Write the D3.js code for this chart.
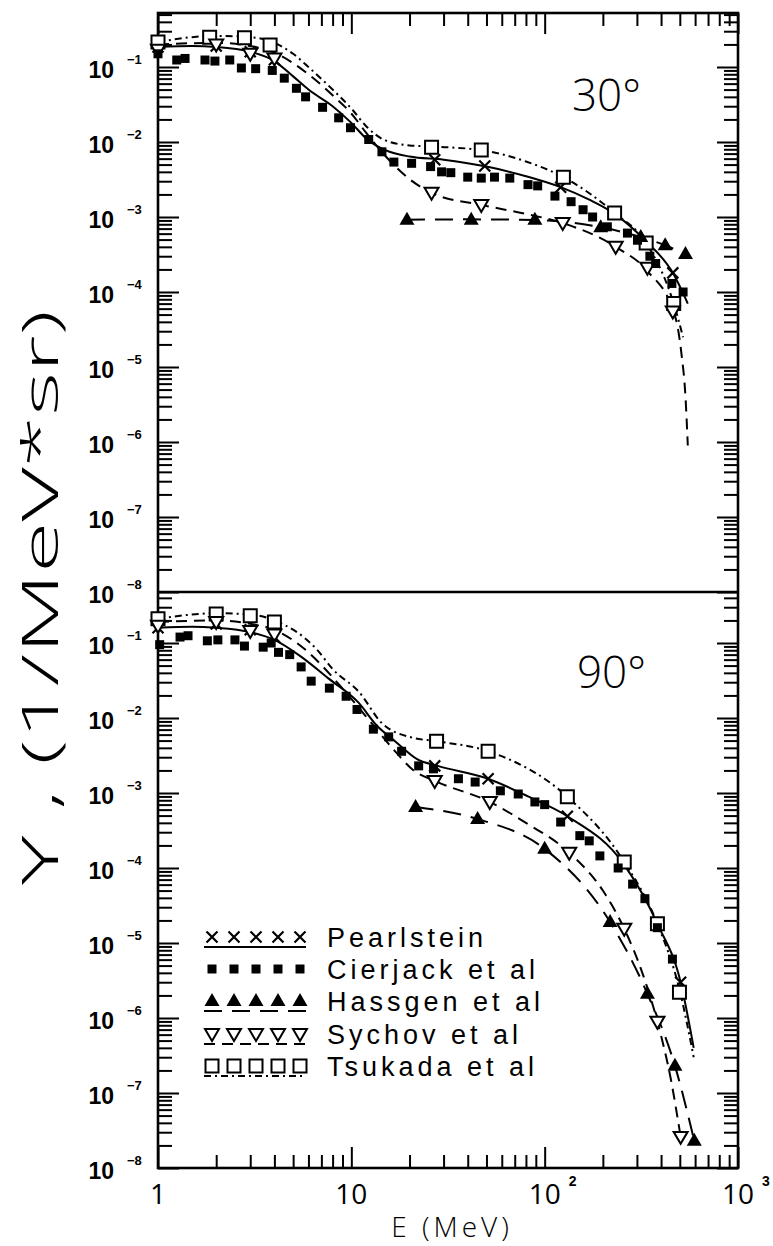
<!DOCTYPE html>
<html><head><meta charset="utf-8">
<script src="https://cdn.jsdelivr.net/npm/d3@7"></script>
<style>body{margin:0;background:#fff}svg{display:block}</style>
</head><body>
<svg id="c" width="773" height="1246"></svg>
<script>
// ---------------- DATA ----------------
const xTickValues = [1, 10, 100, 1000];
const xTickLabels = [["1",""],["10",""],["10","2"],["10","3"]];
const yExponents = [-1,-2,-3,-4,-5,-6,-7,-8];
const panelLabels = ["30°", "90°"];
const seriesNames = ["Pearlstein","Cierjack et al","Hassgen et al","Sychov et al","Tsukada et al"];
const xTitle = "E (MeV)";
const yTitleParts = ["Y ", ", ", "(1/MeV*sr)"];

// 30 degrees
const pearl30 = [[1,0.185],[2,0.19],[3,0.16],[4,0.125],[27,0.0058],[49,0.0048],[121,0.0025],[230,0.0011],[460,1.8e-4]];
const pearl30Curve = [[1,0.185],[1.5,0.19],[2,0.185],[3,0.16],[4,0.12],[5,0.075],[6,0.05],[8,0.03],[10,0.018],[12,0.011],[15,0.0078],[20,0.0064],[30,0.0058],[50,0.0047],[80,0.0035],[121,0.0025],[170,0.0017],[230,0.0011],[330,4.9e-4],[460,1.8e-4],[550,7e-5]];
const cier30 = [[1,0.15],[1.25,0.124],[1.38,0.13],[1.75,0.124],[1.97,0.12],[2.35,0.124],[2.7,0.097],[3.2,0.095],[3.9,0.09],[4.5,0.071],[5.2,0.052],[5.8,0.04],[7.1,0.029],[8.6,0.021],[9.9,0.0155],[12.3,0.0108],[14.4,0.0074],[16.6,0.0054],[20.5,0.0052],[25.7,0.0047],[29.3,0.004],[32.7,0.0039],[40,0.0034],[47,0.0033],[55,0.0034],[66,0.0033],[82,0.0027],[92,0.0026],[113,0.0019],[137,0.0016],[158,0.00125],[177,0.001],[211,0.00074],[268,0.00061],[302,0.00049],[350,0.0003],[375,0.00024],[455,1.3e-4],[520,1.0e-4]];
const hass30 = [[19.4,9.2e-4],[41.7,9.2e-4],[89,9.2e-4],[195,7.3e-4],[314,5.4e-4],[420,4.2e-4],[535,3.2e-4]];
const hass30Curve = [[19.4,9.2e-4],[41.7,9.3e-4],[89,9.1e-4],[195,7.3e-4],[314,5.4e-4],[420,4.2e-4],[535,3.2e-4]];
const sych30 = [[1,0.17],[2,0.2],[3,0.15],[4,0.13],[26,0.0021],[47,0.00145],[124,8.3e-4],[233,4e-4],[340,2.1e-4],[460,5.5e-5]];
const sych30Curve = [[1,0.2],[2,0.21],[3,0.19],[4,0.155],[6,0.08],[8,0.042],[10,0.024],[12,0.013],[15,0.0065],[20,0.0032],[26,0.0021],[47,0.00145],[80,0.0011],[124,8.3e-4],[233,4e-4],[340,1.9e-4],[470,5e-5],[510,1.5e-5],[535,4e-6],[550,9e-7]];
const tsuk30 = [[1,0.215],[1.85,0.25],[2.8,0.245],[3.8,0.196],[26,0.0085],[47,0.0078],[125,0.0034],[230,0.00113],[335,4.5e-4],[465,7e-5]];
const tsuk30Curve = [[1,0.215],[1.5,0.25],[2,0.26],[3,0.25],[4,0.21],[5,0.15],[6,0.1],[8,0.05],[10,0.028],[12,0.016],[15,0.0105],[20,0.009],[26,0.0087],[47,0.0078],[80,0.0055],[125,0.0034],[230,0.00113],[335,4.5e-4],[465,7e-5],[520,2.5e-5]];

// 90 degrees
const pearl90 = [[1,0.16],[2,0.18],[3,0.15],[4,0.12],[27,0.0023],[51,0.00155],[131,4.9e-4],[258,1.1e-4],[383,1.8e-5],[505,3e-6]];
const pearl90Curve = [[1,0.16],[1.5,0.165],[2,0.16],[3,0.14],[4,0.11],[5.4,0.068],[7.7,0.033],[10.9,0.016],[13.5,0.008],[17,0.0048],[22,0.0028],[28,0.0023],[51,0.00155],[82,9e-4],[131,4.9e-4],[258,1.1e-4],[383,1.8e-5],[505,3e-6],[590,4e-7]];
const cier90 = [[1.02,0.095],[1.3,0.12],[1.43,0.125],[1.8,0.107],[2.04,0.11],[2.5,0.11],[2.8,0.091],[3.5,0.088],[3.85,0.1],[4.2,0.075],[4.8,0.07],[5.5,0.048],[6.2,0.031],[7.7,0.025],[9.4,0.0195],[10.7,0.013],[13,0.0071],[15.6,0.0056],[18.2,0.0036],[22.3,0.0023],[26.6,0.0021],[35.8,0.00155],[43.7,0.0014],[59,0.00107],[73,0.00097],[89,7.6e-4],[100,7e-4],[121,4.1e-4],[152,2.7e-4],[170,2.3e-4],[193,1.45e-4],[240,1e-4],[285,6.1e-5],[330,3.9e-5],[383,1.6e-5],[458,6.1e-6]];
const hass90 = [[21.5,6.5e-4],[45,4.5e-4],[100,1.8e-4],[218,1.9e-5],[340,2.1e-6],[472,2.3e-7],[594,2.3e-8]];
const hass90Curve = [[21.5,6.5e-4],[45,4.5e-4],[100,1.8e-4],[218,1.9e-5],[340,2.1e-6],[472,2.3e-7],[594,2.3e-8]];
const sych90 = [[1,0.17],[2,0.19],[3,0.145],[4,0.13],[27,0.00145],[52,7.6e-4],[134,1.6e-4],[258,1.55e-5],[383,8.9e-7],[505,2.6e-8]];
const sych90Curve = [[1,0.19],[2,0.2],[3,0.18],[4,0.15],[6,0.075],[8,0.035],[10,0.018],[13,0.008],[17,0.0035],[21,0.002],[27,0.00145],[52,7.6e-4],[80,4e-4],[134,1.6e-4],[200,5e-5],[258,1.55e-5],[320,4e-6],[383,8.9e-7],[450,1.5e-7],[505,2.6e-8]];
const tsuk90 = [[1,0.21],[2,0.244],[3,0.23],[4,0.19],[27.6,0.0049],[51,0.0036],[131,8.9e-4],[258,1.2e-4],[383,1.8e-5],[498,2.2e-6]];
const tsuk90Curve = [[1,0.21],[1.5,0.24],[2,0.25],[3,0.24],[4,0.2],[6.6,0.083],[8,0.045],[11,0.022],[14.4,0.0085],[20.5,0.0055],[27.6,0.0049],[51,0.0036],[131,8.9e-4],[258,1.2e-4],[383,1.8e-5],[498,2.4e-6],[590,3e-7]];

// ---------------- LAYOUT ----------------
const L = 158, R = 738, T = 13, MID = 592, B = 1168;
const svg = d3.select("#c");
const x = d3.scaleLog().domain([1, 1000]).range([L, R]);
const yTop = d3.scaleLog().domain([1e-8, Math.pow(10, -0.28)]).range([MID, T]);
const yBot = d3.scaleLog().domain([1e-8, Math.pow(10, -0.32)]).range([B, MID]);

const styles = {
  pearl: {dash: null, mark: "x"},
  cier:  {dash: null, mark: "fsq"},
  hass:  {dash: "18,10", mark: "ftri"},
  sych:  {dash: "11,7", mark: "otri"},
  tsuk:  {dash: "7,4,2,4", mark: "osq"}
};
const markPath = {
  x: "M-5.5,-5.5L5.5,5.5M-5.5,5.5L5.5,-5.5",
  fsq: "M-4.5,-4.5h9v9h-9z",
  ftri: "M0,-8L7.5,5L-7.5,5Z",
  otri: "M-7,-5L7,-5L0,7Z",
  osq: "M-6.5,-6.5h13v13h-13z"
};
function drawMark(g, type, px, py) {
  const p = g.append("path").attr("d", markPath[type]).attr("transform", `translate(${px},${py})`);
  if (type === "x") p.attr("fill", "none").attr("stroke", "#000").attr("stroke-width", 2.2);
  else if (type === "fsq" || type === "ftri") p.attr("fill", "#000");
  else p.attr("fill", "#fff").attr("stroke", "#000").attr("stroke-width", 2);
}

// ---------------- AXES ----------------
const xMinor = x.ticks().filter(v => !xTickValues.includes(v));
function yTicksFor(y) {
  const all = y.ticks();
  const isMajor = v => Math.abs(Math.log10(v) - Math.round(Math.log10(v))) < 1e-9;
  return { major: all.filter(isMajor), minor: all.filter(v => !isMajor(v)) };
}
function styleAxis(g) {
  g.select(".domain").remove();
  g.selectAll(".tick line").attr("stroke", "#000").attr("stroke-width", 2);
  g.selectAll("text").remove();
}
[[d3.axisBottom, B], [d3.axisTop, T]].forEach(([ax, yy]) => {
  svg.append("g").attr("transform", `translate(0,${yy})`)
    .call(ax(x).tickValues(xTickValues).tickSize(-21).tickFormat("")).call(styleAxis);
  svg.append("g").attr("transform", `translate(0,${yy})`)
    .call(ax(x).tickValues(xMinor).tickSize(-13).tickFormat("")).call(styleAxis);
});
[yTop, yBot].forEach(y => {
  const tk = yTicksFor(y);
  [[d3.axisLeft, L], [d3.axisRight, R]].forEach(([ax, xx]) => {
    svg.append("g").attr("transform", `translate(${xx},0)`)
      .call(ax(y).tickValues(tk.major).tickSize(-21).tickFormat("")).call(styleAxis);
    svg.append("g").attr("transform", `translate(${xx},0)`)
      .call(ax(y).tickValues(tk.minor).tickSize(-14).tickFormat("")).call(styleAxis);
  });
});
svg.append("rect").attr("x", L).attr("y", T).attr("width", R - L).attr("height", B - T)
  .attr("fill", "none").attr("stroke", "#000").attr("stroke-width", 2.6);
svg.append("line").attr("x1", L).attr("x2", R).attr("y1", MID).attr("y2", MID)
  .attr("stroke", "#000").attr("stroke-width", 2.4);

// y tick labels
[yTop, yBot].forEach(y => {
  yExponents.forEach(e => {
    const yy = y(Math.pow(10, e));
    svg.append("text").attr("x", 114).attr("y", yy + 11).attr("text-anchor", "end")
      .attr("font-family", "Liberation Sans, Arial, sans-serif").attr("font-weight", "bold")
      .attr("font-size", 23).text("10");
    svg.append("text").attr("x", 127).attr("y", yy - 3)
      .attr("font-family", "Liberation Sans, Arial, sans-serif").attr("font-weight", "bold")
      .attr("font-size", 13).text("\u2212" + Math.abs(e));
  });
});
// x tick labels
xTickValues.forEach((v, i) => {
  const [base, sup] = xTickLabels[i];
  svg.append("text").attr("x", x(v)).attr("y", 1204).attr("text-anchor", "middle")
    .attr("font-family", "Open Sans, Liberation Sans, sans-serif").attr("font-size", 28)
    .attr("font-weight", 400).text(base);
  if (sup) {
    svg.append("text").attr("x", x(v) + 24).attr("y", 1186)
      .attr("font-family", "Liberation Sans, sans-serif").attr("font-weight", "bold")
      .attr("font-size", 14).text(sup);
  }
});
// x title
svg.append("text").attr("x", 452).attr("y", 1237).attr("text-anchor", "middle")
  .attr("font-family", "Open Sans, Liberation Sans, sans-serif").attr("font-weight", 300)
  .attr("font-size", 28).attr("letter-spacing", 4).text(xTitle);

// y title: measure natural width of the parenthesised part, stretch along text direction
const fontY = {family: "Open Sans, Liberation Sans, sans-serif", weight: 300, size: 50};
const probe = svg.append("text").attr("font-family", fontY.family).attr("font-weight", fontY.weight)
  .attr("font-size", fontY.size).text(yTitleParts[2]);
const natural = probe.node().getComputedTextLength();
probe.remove();
const sx = 455 / natural;             // "(1/MeV*sr)" spans ~455px in the reference
const titlePos = [0, 75, 120];        // offsets (px) along the title from its lower end
const yt = svg.append("text")
  .attr("transform", `translate(58,885) rotate(-90) scale(${sx},1)`)
  .attr("font-family", fontY.family).attr("font-weight", fontY.weight).attr("font-size", fontY.size);
yTitleParts.forEach((p, i) => yt.append("tspan").attr("x", titlePos[i] / sx).text(p));

// panel labels
svg.append("text").attr("x", 572).attr("y", 111).attr("font-family", "Open Sans, Liberation Sans, sans-serif")
  .attr("font-weight", 300).attr("font-size", 44).text(panelLabels[0]);
svg.append("text").attr("x", 577).attr("y", 688).attr("font-family", "Open Sans, Liberation Sans, sans-serif")
  .attr("font-weight", 300).attr("font-size", 44).text(panelLabels[1]);

// ---------------- SERIES ----------------
function drawPanel(y, sets) {
  const g = svg.append("g");
  const line = d3.line().x(d => x(d[0])).y(d => y(d[1])).curve(d3.curveMonotoneX);
  sets.forEach(([key, pts, curve]) => {
    if (curve) g.append("path").attr("d", line(curve)).attr("fill", "none")
      .attr("stroke", "#000").attr("stroke-width", 2)
      .attr("stroke-dasharray", styles[key].dash);
  });
  sets.forEach(([key, pts]) => {
    pts.forEach(d => drawMark(g, styles[key].mark, x(d[0]), y(d[1])));
  });
}
drawPanel(yTop, [["pearl", pearl30, pearl30Curve], ["tsuk", tsuk30, tsuk30Curve], ["sych", sych30, sych30Curve],
  ["hass", hass30, hass30Curve], ["cier", cier30, null]]);
drawPanel(yBot, [["pearl", pearl90, pearl90Curve], ["tsuk", tsuk90, tsuk90Curve], ["sych", sych90, sych90Curve],
  ["hass", hass90, hass90Curve], ["cier", cier90, null]]);

// ---------------- LEGEND ----------------
const legendKeys = ["pearl", "cier", "hass", "sych", "tsuk"];
const legendY = [937, 969, 1001, 1034, 1066];
const lg = svg.append("g");
legendKeys.forEach((k, i) => {
  const yy = legendY[i];
  if (k !== "cier") {
    lg.append("line").attr("x1", 204).attr("x2", 306).attr("y1", yy + 10).attr("y2", yy + 10)
      .attr("stroke", "#000").attr("stroke-width", 2).attr("stroke-dasharray", styles[k].dash);
  }
  for (let j = 0; j < 5; j++) drawMark(lg, styles[k].mark, 212 + j * 22, yy);
  lg.append("text").attr("x", 327).attr("y", yy + 10)
    .attr("font-family", "Liberation Sans, Arial, sans-serif")
    .attr("font-size", 27).attr("letter-spacing", 4).text(seriesNames[i]);
});
</script>
</body></html>
